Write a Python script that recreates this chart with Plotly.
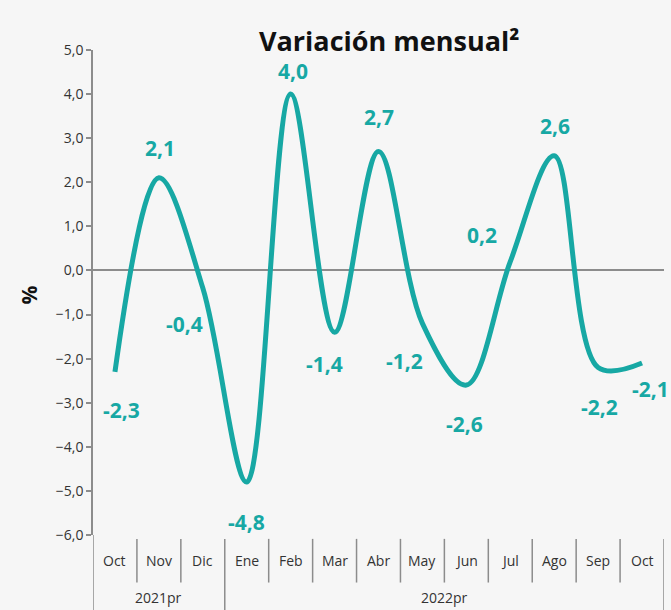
import plotly.graph_objects as go

months = ["Oct", "Nov", "Dic", "Ene", "Feb", "Mar", "Abr", "May", "Jun", "Jul", "Ago", "Sep", "Oct"]
years = ["2021pr", "2022pr"]
year_span = [(0, 2), (3, 12)]
values = [-2.3, 2.1, -0.4, -4.8, 4.0, -1.4, 2.7, -1.2, -2.6, 0.2, 2.6, -2.2, -2.1]
# label offsets (px) relative to each point
lab_dx = [7, 1, -18, 0, 2, -10, 0, -18, -2, -28, 1, 1, 8]
lab_dy = [-38, 30, -36, -40, 23, -32, 34, -38, -39, 27, 30, -40, -26]
yticks = [5, 4, 3, 2, 1, 0, -1, -2, -3, -4, -5, -6]

TEAL = "#17a8a4"
GREY = "#8c8c8c"
FONT = "Open Sans"

x = list(range(len(months)))

fig = go.Figure()
fig.add_trace(go.Scatter(
    x=x, y=values, mode="lines",
    line=dict(color=TEAL, width=5, shape="spline", smoothing=1.0),
    hoverinfo="skip", showlegend=False,
))

annotations = []
for i, v in enumerate(values):
    annotations.append(dict(
        x=i, y=v, xref="x", yref="y",
        text=f"{v:.1f}".replace(".", ","),
        showarrow=False, xshift=lab_dx[i], yshift=lab_dy[i],
        xanchor="center", yanchor="middle",
        font=dict(family=FONT, size=21, color=TEAL, weight="bold"),
    ))

shapes = []
# category labels and separators
for i, m in enumerate(months):
    annotations.append(dict(
        x=i, y=-0.052, xref="x", yref="paper", text=m, showarrow=False,
        xanchor="center", yanchor="middle",
        font=dict(family=FONT, size=14, color="#333333"),
    ))
group_bounds = {-0.5, 2.5, 12.5}
for k in range(len(months) + 1):
    xb = k - 0.5
    y0 = -0.16 if xb in group_bounds else -0.098
    shapes.append(dict(type="line", xref="x", yref="paper", x0=xb, x1=xb,
                       y0=y0, y1=-0.008 if xb != -0.5 else 0,
                       line=dict(color=GREY, width=1.5)))
for name, (a, b) in zip(years, year_span):
    annotations.append(dict(
        x=(a + b) / 2, y=-0.128, xref="x", yref="paper", text=name, showarrow=False,
        xanchor="center", yanchor="middle",
        font=dict(family=FONT, size=14, color="#333333"),
    ))

# title
annotations.append(dict(
    x=0.518, y=1.02, xref="paper", yref="paper", text="Variación mensual²",
    showarrow=False, xanchor="center", yanchor="middle",
    font=dict(family=FONT, size=27, color="#111111", weight="bold"),
))
# y-axis title
annotations.append(dict(
    x=-0.113, y=0.495, xref="paper", yref="paper", text="%", textangle=-90,
    showarrow=False, xanchor="center", yanchor="middle",
    font=dict(family=FONT, size=21, color="#111111", weight="bold"),
))

fig.update_layout(
    width=671, height=610,
    margin=dict(l=93, r=7, t=50, b=75),
    paper_bgcolor="#f6f6f6", plot_bgcolor="#f6f6f6",
    separators=",.",
    annotations=annotations, shapes=shapes,
    xaxis=dict(range=[-0.5, 12.5], showticklabels=False, showgrid=False,
               zeroline=False, showline=False, ticks=""),
    yaxis=dict(range=[-6, 5], tickvals=yticks, tickformat=".1f",
               showgrid=False, showline=True, linecolor=GREY, linewidth=1.5,
               ticks="outside", ticklen=5, tickcolor=GREY, tickwidth=1.5,
               zeroline=True, zerolinecolor=GREY, zerolinewidth=1.5,
               tickfont=dict(family=FONT, size=14, color="#333333")),
)

fig.write_html("out.html", config={"displayModeBar": False},
               post_script="document.body.style.margin='0px';document.body.style.background='#f6f6f6';")
